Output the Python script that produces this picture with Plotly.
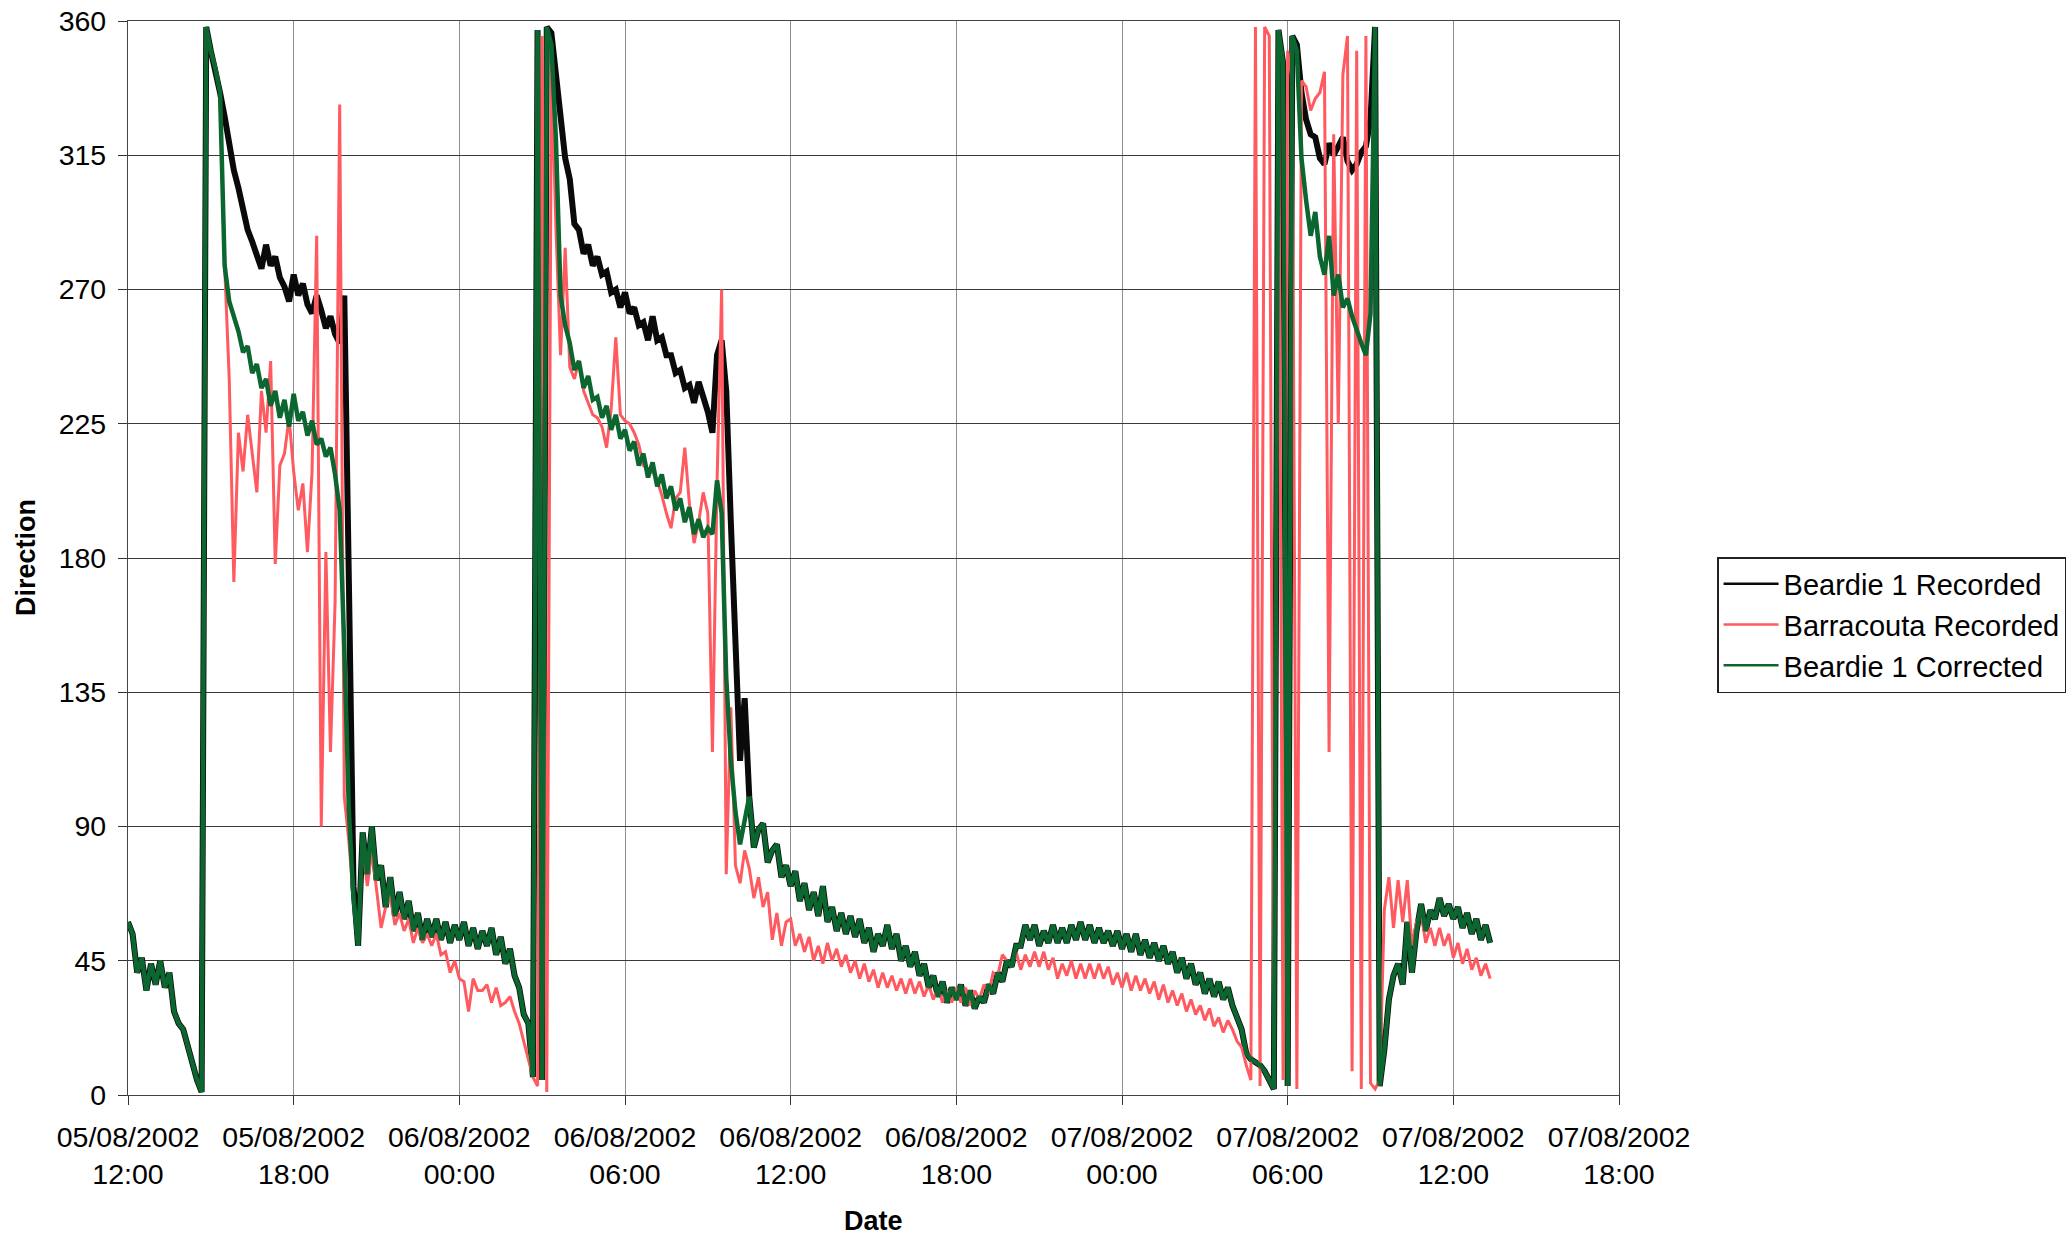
import numpy as np
import pandas as pd
import plotly.graph_objects as go

# ---- data: 10-minute samples starting 05/08/2002 12:00 (one row per hour) ----
start_time = "2002-08-05 12:00"
sample_minutes = 10

beardie_corrected = [
    58, 54, 41, 46, 35, 44,
    37, 45, 36, 41, 28, 24,
    22, 16, 11, 5, 1, 358,
    350, 344, 336, 278, 266, 261,
    256, 249, 251, 242, 245, 237,
    240, 231, 236, 227, 233, 224,
    235, 226, 229, 221, 226, 218,
    220, 214, 217, 208, 196, 150,
    95, 66, 50, 88, 74, 90,
    72, 77, 63, 73, 60, 68,
    59, 65, 55, 61, 52, 59,
    53, 59, 52, 58, 51, 57,
    52, 58, 50, 56, 49, 55,
    50, 56, 47, 53, 44, 49,
    40, 36, 27, 24, 6, 357,
    5, 358, 352, 320, 268, 258,
    252, 243, 246, 237, 241, 233,
    234, 227, 231, 223, 228, 220,
    223, 216, 219, 211, 215, 207,
    212, 204, 208, 200, 204, 196,
    200, 192, 197, 188, 193, 187,
    190, 188, 206, 195, 140, 112,
    95, 84, 92, 100, 83, 89,
    91, 78, 82, 84, 73, 77,
    70, 75, 65, 71, 62, 68,
    60, 70, 58, 63, 55, 61,
    54, 60, 53, 59, 51, 56,
    48, 54, 50, 57, 49, 54,
    45, 50, 43, 48, 40, 44,
    36, 40, 33, 38, 31, 36,
    32, 37, 30, 35, 29, 33,
    31, 37, 34, 41, 38, 45,
    43, 50, 50, 57, 52, 57,
    50, 55, 51, 57, 51, 56,
    51, 57, 52, 58, 52, 57,
    51, 56, 51, 55, 50, 55,
    49, 54, 48, 54, 47, 52,
    46, 51, 45, 50, 44, 48,
    41, 46, 39, 44, 37, 41,
    34, 39, 33, 38, 32, 36,
    30, 26, 22, 14, 12, 11,
    10, 8, 5, 2, 357, 346,
    3, 355, 350, 314, 300, 288,
    296, 281, 275, 288, 268, 275,
    264, 267, 261, 256, 252, 248,
    262, 358, 3, 15, 32, 40,
    44, 37, 58, 41, 55, 64,
    55, 62, 59, 66, 60, 64,
    59, 63, 56, 61, 54, 59,
    52, 57, 51,
]

beardie_recorded = [
    58, 54, 41, 46, 35, 44,
    37, 45, 36, 41, 28, 24,
    22, 16, 11, 5, 1, 358,
    350, 344, 336, 328, 318, 310,
    304, 296, 290, 286, 281, 277,
    285, 278, 281, 274, 271, 266,
    275, 268, 272, 265, 262, 268,
    263, 257, 261, 255, 252, 268,
    172, 70, 50, 88, 74, 90,
    72, 77, 63, 73, 60, 68,
    59, 65, 55, 61, 52, 59,
    53, 59, 52, 58, 51, 57,
    52, 58, 50, 56, 49, 55,
    50, 56, 47, 53, 44, 49,
    40, 36, 27, 24, 6, 357,
    5, 358, 356, 342, 326, 314,
    307, 292, 290, 282, 285, 278,
    281, 275, 276, 269, 270, 264,
    269, 262, 264, 258, 259, 253,
    261, 253, 254, 248, 248, 242,
    243, 237, 238, 232, 239, 234,
    229, 222, 248, 253, 236, 192,
    150, 112, 133, 100, 83, 89,
    91, 78, 82, 84, 73, 77,
    70, 75, 65, 71, 62, 68,
    60, 70, 58, 63, 55, 61,
    54, 60, 53, 59, 51, 56,
    48, 54, 50, 57, 49, 54,
    45, 50, 43, 48, 40, 44,
    36, 40, 33, 38, 31, 36,
    32, 37, 30, 35, 29, 33,
    31, 37, 34, 41, 38, 45,
    43, 50, 50, 57, 52, 57,
    50, 55, 51, 57, 51, 56,
    51, 57, 52, 58, 52, 57,
    51, 56, 51, 55, 50, 55,
    49, 54, 48, 54, 47, 52,
    46, 51, 45, 50, 44, 48,
    41, 46, 39, 44, 37, 41,
    34, 39, 33, 38, 32, 36,
    30, 26, 22, 14, 12, 11,
    10, 8, 5, 2, 357, 346,
    3, 355, 352, 336, 327, 322,
    321, 314, 312, 319, 315, 318,
    321, 313, 310, 312, 316, 318,
    327, 358, 3, 15, 32, 40,
    44, 37, 58, 41, 55, 64,
    55, 62, 59, 66, 60, 64,
    59, 63, 56, 61, 54, 59,
    52, 57, 51,
]

barracouta_recorded = [
    58, 54, 41, 46, 35, 44,
    37, 45, 36, 41, 28, 24,
    22, 16, 11, 5, 1, 358,
    350, 344, 336, 278, 240, 172,
    222, 209, 228, 215, 202, 236,
    222, 246, 178, 211, 215, 227,
    209, 196, 205, 182, 209, 288,
    90, 182, 115, 165, 332, 100,
    85, 66, 52, 84, 70, 82,
    68, 56, 63, 67, 57, 61,
    55, 59, 51, 56, 51, 54,
    50, 54, 47, 48, 41, 45,
    39, 38, 28, 39, 35, 35,
    37, 31, 36, 30, 31, 33,
    28, 24, 18, 12, 6, 3,
    355, 1, 345, 290, 248, 284,
    244, 240, 246, 236, 232, 228,
    227, 224, 217, 230, 254, 228,
    226, 225, 222, 218, 211, 210,
    209, 206, 201, 195, 190, 200,
    202, 217, 198, 185, 192, 202,
    195, 115, 205, 270, 74, 130,
    77, 71, 82, 76, 66, 73,
    63, 68, 52, 61, 50, 58,
    59, 50, 54, 48, 53, 45,
    50, 44, 51, 45, 49, 43,
    47, 41, 45, 39, 44, 38,
    42, 36, 41, 36, 40, 35,
    39, 34, 39, 34, 38, 33,
    37, 32, 36, 31, 35, 31,
    36, 31, 36, 30, 35, 32,
    37, 34, 41, 40, 47, 45,
    43, 48, 42, 47, 43, 48,
    43, 48, 42, 46, 39, 44,
    40, 45, 39, 44, 39, 44,
    39, 44, 39, 43, 37, 41,
    36, 41, 35, 40, 35, 39,
    34, 38, 32, 37, 31, 35,
    30, 34, 28, 32, 27, 30,
    25, 29, 23, 26, 21, 25,
    22, 18, 16, 10, 5, 358,
    3, 358, 355, 2, 356, 5,
    350, 340, 2, 340, 338, 330,
    334, 336, 343, 115, 322, 225,
    342, 355, 8, 350, 2, 355,
    4, 2, 5, 62, 73, 56,
    72, 58, 72, 50, 58, 61,
    51, 56, 50, 56, 50, 54,
    46, 51, 44, 49, 42, 46,
    40, 44, 39,
]

series_names = ["Beardie 1 Recorded", "Barracouta Recorded", "Beardie 1 Corrected"]

x_tick_times = ["2002-08-05 12:00", "2002-08-05 18:00", "2002-08-06 00:00",
                "2002-08-06 06:00", "2002-08-06 12:00", "2002-08-06 18:00",
                "2002-08-07 00:00", "2002-08-07 06:00", "2002-08-07 12:00",
                "2002-08-07 18:00"]
x_tick_labels = ["05/08/2002<br>12:00", "05/08/2002<br>18:00", "06/08/2002<br>00:00",
                 "06/08/2002<br>06:00", "06/08/2002<br>12:00", "06/08/2002<br>18:00",
                 "07/08/2002<br>00:00", "07/08/2002<br>06:00", "07/08/2002<br>12:00",
                 "07/08/2002<br>18:00"]
y_ticks = [0, 45, 90, 135, 180, 225, 270, 315, 360]

n = len(beardie_corrected)
assert len(beardie_recorded) == n and len(barracouta_recorded) == n
times = pd.Timestamp(start_time) + pd.to_timedelta(np.arange(n) * sample_minutes, unit="min")

colors = ["#0a0a0a", "#ff5a5f", "#0b6630"]
widths = [6, 3, 4.5]
values = [beardie_recorded, barracouta_recorded, beardie_corrected]

fig = go.Figure()
for name, vals, c, w in zip(series_names, values, colors, widths):
    fig.add_trace(go.Scatter(x=times, y=vals, mode="lines", name=name,
                             legendgroup=name, showlegend=False,
                             line=dict(color=c, width=w)))
# legend entries with thin sample lines, as in the original
for name, c in zip(series_names, colors):
    fig.add_trace(go.Scatter(x=[None], y=[None], mode="lines", name=name,
                             legendgroup=name, showlegend=True,
                             line=dict(color=c, width=2.5)))

fig.update_layout(
    autosize=False,
    width=2066, height=1237,
    margin=dict(l=128, r=447, t=21, b=142, autoexpand=False),
    font=dict(family="Liberation Sans, Arial, sans-serif", size=28.5, color="black"),
    plot_bgcolor="white", paper_bgcolor="white",
    legend=dict(xref="container", yref="container", x=0.8311, y=0.5497,
                xanchor="left", yanchor="top",
                bordercolor="#222", borderwidth=1.5, bgcolor="white",
                font=dict(size=29), itemwidth=55, tracegroupgap=0),
    annotations=[
        dict(text="<b>Direction</b>", x=0, y=0.5, xref="paper", yref="paper",
             xanchor="center", yanchor="middle", xshift=-102, textangle=-90,
             showarrow=False, font=dict(size=27)),
        dict(text="<b>Date</b>", x=0.5, y=0, xref="paper", yref="paper",
             xanchor="center", yanchor="middle", yshift=-126,
             showarrow=False, font=dict(size=27)),
    ],
)
fig.update_xaxes(type="date", automargin=False,
                 range=[pd.Timestamp(x_tick_times[0]), pd.Timestamp(x_tick_times[-1])],
                 tickvals=[pd.Timestamp(t) for t in x_tick_times], ticktext=x_tick_labels,
                 ticks="outside", ticklen=9, tickcolor="#333", tickwidth=1,
                 showgrid=True, gridcolor="#8a9099", gridwidth=1,
                 showline=True, linecolor="#444", linewidth=1.2, mirror=True,
                 zeroline=False, ticklabelstandoff=8)
fig.update_yaxes(range=[0, 360], tickvals=y_ticks, automargin=False,
                 ticks="outside", ticklen=9, tickcolor="#333", tickwidth=1,
                 showgrid=True, gridcolor="#3a3a3a", gridwidth=1,
                 showline=True, linecolor="#444", linewidth=1.2, mirror=True,
                 zeroline=False, ticklabelstandoff=6, ticklabeloverflow="allow")

fig.write_html("out.html", config={"responsive": False, "displayModeBar": False},
               post_script="document.body.style.margin='0';document.body.style.overflow='hidden';")
